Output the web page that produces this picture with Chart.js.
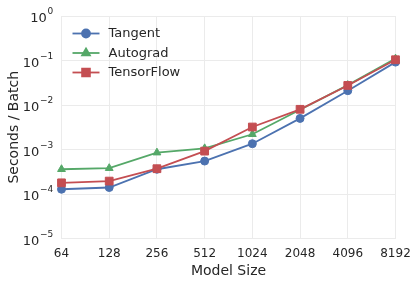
<!DOCTYPE html>
<html><head><meta charset="utf-8">
<script src="https://cdn.jsdelivr.net/npm/chart.js@4"></script>
<style>html,body{margin:0;padding:0;background:#fff}#wrap{width:419px;height:285px;position:relative}</style>
</head><body><div id="wrap"><canvas id="c"></canvas></div>
<script>
const modelSizes = ['64','128','256','512','1024','2048','4096','8192'];
const tangent = [1.28e-4, 1.4e-4, 3.6e-4, 5.5e-4, 1.35e-3, 5.0e-3, 0.021, 0.092];
const autograd = [3.6e-4, 3.8e-4, 8.5e-4, 1.06e-3, 2.2e-3, 7.8e-3, 0.028, 0.11];
const tensorflow = [1.78e-4, 1.95e-4, 3.7e-4, 9.2e-4, 3.2e-3, 8.0e-3, 0.0275, 0.104];
const yTicks = [1e-5, 1e-4, 1e-3, 1e-2, 1e-1, 1];
const yTickBase = '10';
const yTickExponents = ['−5', '−4', '−3', '−2', '−1', '0'];
const seriesNames = ['Tangent', 'Autograd', 'TensorFlow'];

const FONT = "'DejaVu Sans', sans-serif";
const TEXT = '#262626';
const GRID = '#EBEBEB';
const colors = ['#4C72B0', '#55A868', '#C44E52'];
const styles = ['circle', 'triangle', 'rect'];
const radii = [4, 4.5, 5.5];

const legendPlugin = {
  id: 'lineLegend',
  afterDraw(chart) {
    const ctx = chart.ctx;
    const ca = chart.chartArea;
    const x0 = ca.left + 11, x1 = ca.left + 38, xm = (x0 + x1) / 2, xt = ca.left + 47;
    ctx.save();
    chart.data.datasets.forEach((ds, i) => {
      const y = ca.top + 17.5 + i * 19.5;
      ctx.strokeStyle = ds.borderColor;
      ctx.lineWidth = ds.borderWidth;
      ctx.beginPath(); ctx.moveTo(x0, y); ctx.lineTo(x1, y); ctx.stroke();
      ctx.fillStyle = ds.pointBackgroundColor;
      ctx.strokeStyle = ds.pointBorderColor;
      Chart.helpers.drawPoint(ctx, {pointStyle: ds.pointStyle, radius: ds.pointRadius, rotation: 0, borderWidth: 1}, xm, y);
      ctx.fillStyle = TEXT;
      ctx.font = '13px ' + FONT;
      ctx.textBaseline = 'middle';
      ctx.textAlign = 'left';
      ctx.fillText(ds.label, xt, y + 0.5);
    });
    ctx.restore();
  }
};

const powerTickPlugin = {
  id: 'powerTicks',
  afterDraw(chart) {
    const ctx = chart.ctx;
    const s = chart.scales.y;
    const right = s.right - 8.2;
    ctx.save();
    ctx.fillStyle = TEXT;
    ctx.textBaseline = 'alphabetic';
    ctx.textAlign = 'left';
    s.ticks.forEach((t, i) => {
      const y = s.getPixelForValue(t.value);
      const exp = yTickExponents[i];
      ctx.font = '9px ' + FONT;
      const we = ctx.measureText(exp).width;
      ctx.font = '13px ' + FONT;
      const wb = ctx.measureText(yTickBase).width;
      const xe = right - we;
      ctx.fillText(yTickBase, xe - 0.8 - wb, y + 6);
      ctx.font = '9px ' + FONT;
      ctx.fillText(exp, xe, y - 1.7);
    });
    ctx.restore();
  }
};

const seriesData = [tangent, autograd, tensorflow];
const datasets = seriesNames.map((name, i) => ({
  label: name,
  data: seriesData[i],
  borderColor: colors[i],
  backgroundColor: colors[i],
  pointBackgroundColor: colors[i],
  pointBorderColor: colors[i],
  pointStyle: styles[i],
  pointRadius: radii[i],
  pointBorderWidth: 1,
  borderWidth: 1.8,
  tension: 0,
  clip: false,
  order: 2 - i
}));

new Chart(document.getElementById('c'), {
  type: 'line',
  data: { labels: modelSizes, datasets },
  plugins: [legendPlugin, powerTickPlugin],
  options: {
    responsive: true,
    maintainAspectRatio: false,
    animation: false,
    devicePixelRatio: 1,
    layout: { padding: { top: 16, right: 23.5, left: 0, bottom: 0 } },
    plugins: { legend: { display: false }, tooltip: { enabled: false } },
    scales: {
      x: {
        type: 'category',
        offset: false,
        grid: { color: GRID, lineWidth: 1, drawTicks: false },
        border: { display: false },
        ticks: { color: TEXT, font: { family: FONT, size: 12 }, padding: 8, maxRotation: 0, autoSkip: false },
        title: { display: true, text: 'Model Size', color: TEXT, font: { family: FONT, size: 14 }, padding: { top: 0, bottom: 5 } },
        afterFit(s) { s.height = 46.5; }
      },
      y: {
        type: 'logarithmic',
        min: 1e-5,
        max: 1,
        grid: { color: GRID, lineWidth: 1, drawTicks: false },
        border: { display: false },
        afterBuildTicks(s) { s.ticks = yTicks.map(v => ({ value: v })); },
        ticks: { display: false },
        title: { display: true, text: 'Seconds / Batch', color: TEXT, font: { family: FONT, size: 14 }, padding: { top: 6, bottom: 0 } },
        afterFit(s) { s.width = 61.5; }
      }
    }
  }
});
</script></body></html>
